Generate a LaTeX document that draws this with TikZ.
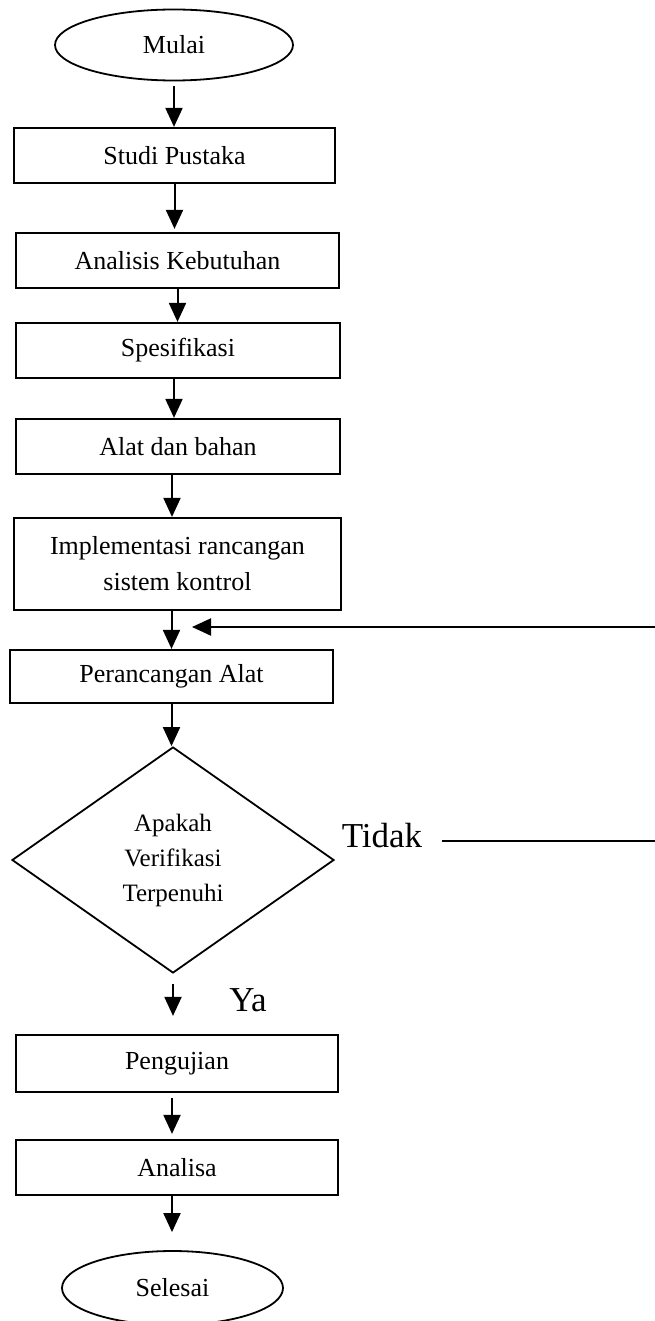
\documentclass[tikz,border=0pt]{standalone}
\usepackage{fontspec}
\setmainfont{Liberation Serif}
\usetikzlibrary{arrows.meta,shapes.geometric}
\tikzset{
  boxnode/.style={draw, line width=2.2pt, rectangle, inner sep=0pt, align=center,
    font=\fontsize{26}{36}\selectfont},
  termnode/.style={draw, line width=1.8pt, ellipse, inner sep=0pt,
    font=\fontsize{26}{36}\selectfont},
  decnode/.style={draw, line width=1.8pt, diamond, inner sep=0pt, align=center,
    font=\fontsize{25}{35}\selectfont},
  lbl/.style={inner sep=0pt, font=\fontsize{35}{40}\selectfont},
  arr/.style={line width=2pt, -{Triangle[length=19pt,width=17pt]}},
  plain/.style={line width=2.2pt}
}
\begin{document}
\begin{tikzpicture}[x=1pt,y=-1pt]
\useasboundingbox[fill=white] (0,0) rectangle (655,1321);
\node[termnode, minimum width=238pt, minimum height=71pt] (mulai) at (174,45) {Mulai};
\node[boxnode, minimum width=321pt, minimum height=55pt] (studi) at (174.5,155.5) {Studi Pustaka};
\node[boxnode, minimum width=323pt, minimum height=55pt] (analisis) at (177.5,260.5) {Analisis Kebutuhan};
\node[boxnode, minimum width=324pt, minimum height=55pt] (spes) at (178,350.5) {Spesifikasi};
\node[boxnode, minimum width=324pt, minimum height=55pt] (alat) at (178,446.5) {Alat dan bahan};
\node[boxnode, minimum width=327pt, minimum height=92pt] (impl) at (177.5,564) {Implementasi rancangan\\sistem kontrol};
\node[boxnode, minimum width=323pt, minimum height=53pt] (peran) at (171.5,676.5) {Perancangan Alat};
\node[decnode, minimum width=322pt, minimum height=226pt] (dia) at (173,860) {Apakah\\Verifikasi\\Terpenuhi};
\node[lbl] (tidak) at (382,836) {Tidak};
\node[lbl] (ya) at (248,1000) {Ya};
\node[boxnode, minimum width=322pt, minimum height=57pt] (peng) at (177,1063.5) {Pengujian};
\node[boxnode, minimum width=322pt, minimum height=55pt] (anal) at (177,1167.5) {Analisa};
\node[termnode, minimum width=221pt, minimum height=74pt] (sel) at (172.5,1288) {Selesai};
\coordinate (ts) at (442,841);
\coordinate (te) at (655,841);
\coordinate (rs) at (655,627);
\coordinate (rt) at (192,627);

\draw[arr, shorten <=5pt] (mulai.south) -- (mulai.south |- studi.north);
\draw[arr, shorten >=3pt] (studi.south) -- (studi.south |- analisis.north);
\draw[arr] (analisis.south) -- (analisis.south |- spes.north);
\draw[arr] ([xshift=-4pt]spes.south) -- ([xshift=-4pt]spes.south |- alat.north);
\draw[arr] ([xshift=-6pt]alat.south) -- ([xshift=-6pt]alat.south |- impl.north);
\draw[arr] (impl.south -| peran.north) -- (peran.north);
\draw[arr] (peran.south) -- (peran.south |- dia.north);
\draw[arr, shorten <=10pt, shorten >=18pt] (dia.south) -- (dia.south |- peng.north);
\draw[arr, shorten <=5pt, shorten >=5pt] ([xshift=-5pt]peng.south) -- ([xshift=-5pt]peng.south |- anal.north);
\draw[arr, shorten >=18pt] ([xshift=-5pt]anal.south) -- ([xshift=-5pt]anal.south |- sel.north);
\draw[plain] (ts) -- (te);
\draw[arr] (rs) -- (rt);
\end{tikzpicture}
\end{document}
